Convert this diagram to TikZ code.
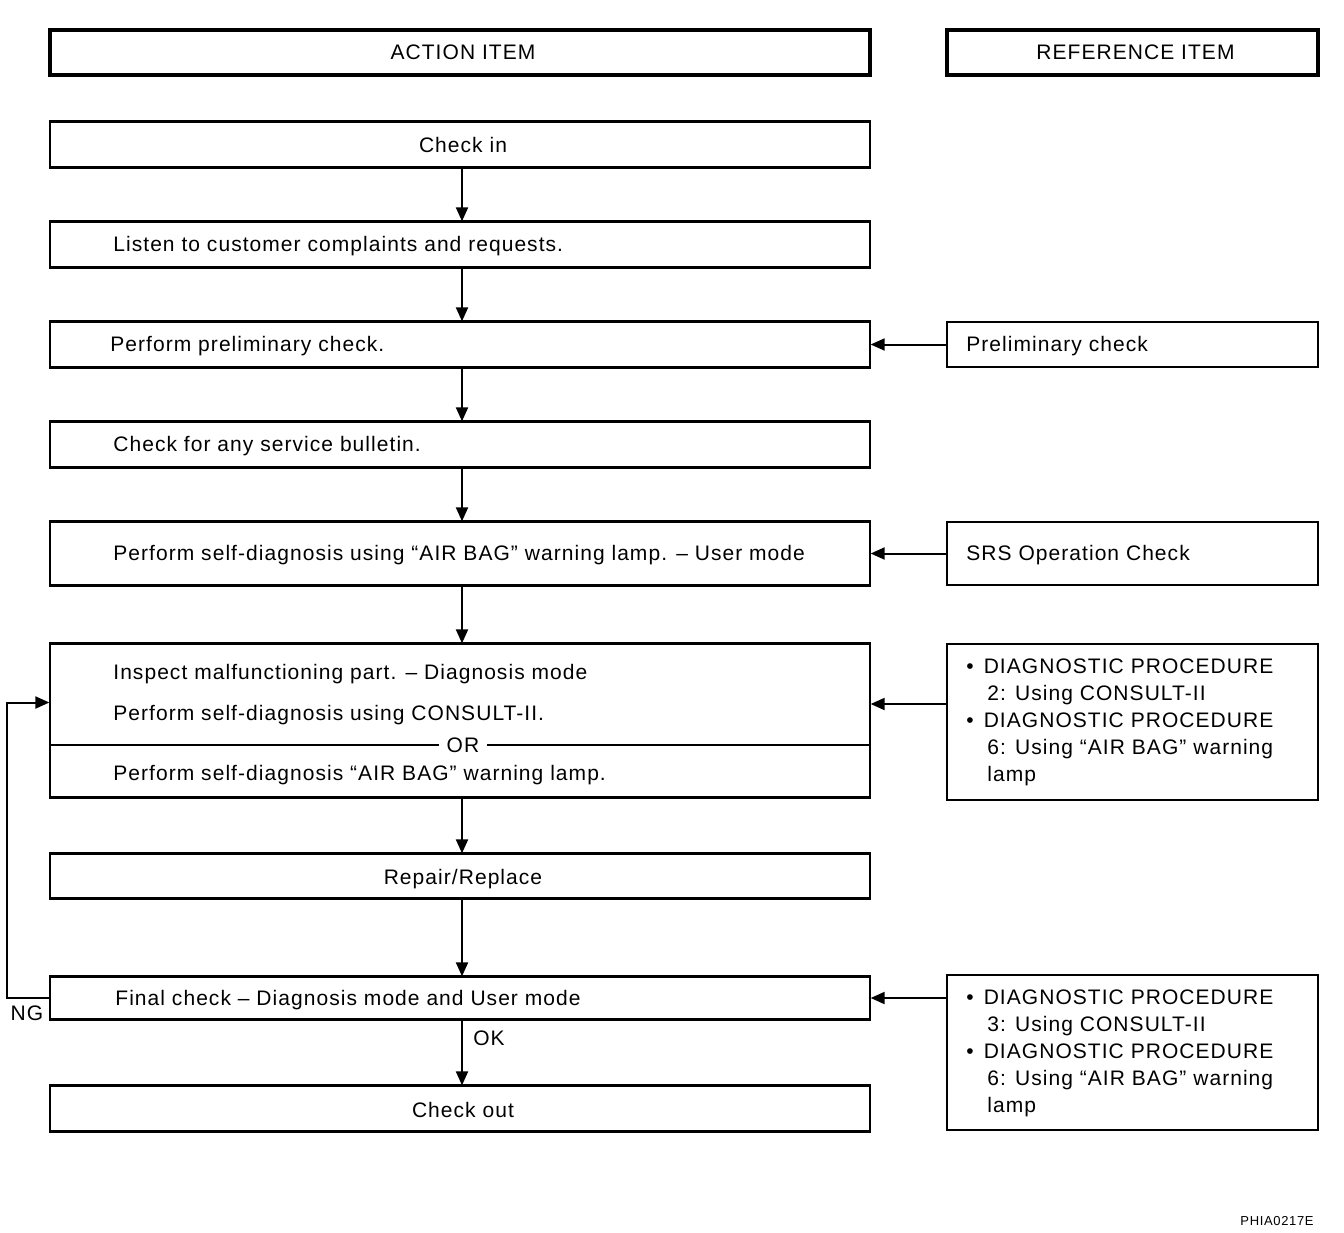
\documentclass[tikz,border=0pt]{standalone}
\usepackage{fontspec}
\setmainfont{Liberation Sans}[LetterSpace=5.0]
\usetikzlibrary{arrows.meta,calc}
\begin{document}
\begin{tikzpicture}[x=0.5pt,y=-0.5pt,
  font=\fontsize{10.5pt}{13.5pt}\selectfont,
  hdr/.style={draw,line width=2pt,minimum height=22.5pt,inner sep=0pt},
  lbox/.style={draw,line width=0.65pt,minimum width=410pt,inner sep=0pt},
  rbox/.style={draw,line width=1pt,minimum width=185.5pt,inner sep=0pt},
  txt/.style={anchor=west,inner sep=0pt,yshift=-1pt},
  ctxt/.style={inner sep=0pt},
  arr/.style={line width=1pt,-{Triangle[length=7pt,width=6pt]}},
  thickedge/.style={line width=1.4pt}]
\useasboundingbox (0,0) rectangle (1344,1232);
% headers
\node[hdr,minimum width=410pt] (hA) at (460,52.5) {\hspace*{3pt}ACTION ITEM};
\node[hdr,minimum width=185.5pt] (hR) at (1132.5,52.5) {\hspace*{3pt}REFERENCE ITEM};
% left boxes
\node[lbox,minimum height=22.5pt] (ci) at (460,144.5) {\hspace*{3pt}Check in};
\node[lbox,minimum height=22.5pt] (ls) at (460,244.5) {};
\node[lbox,minimum height=22.5pt] (pp) at (460,344.5) {};
\node[lbox,minimum height=22.5pt] (sb) at (460,444.5) {};
\node[lbox,minimum height=31.5pt] (sd) at (460,553.5) {};
\node[lbox,minimum height=76.5pt] (insp) at (460,720.5) {};
\node[lbox,minimum height=22pt] (rr) at (460,876) {};
\node[lbox,minimum height=21pt] (fc) at (460,998) {};
\node[lbox,minimum height=22.5pt] (co) at (460,1108.5) {};
\foreach \n in {ci,ls,pp,sb,sd,insp,rr,fc,co}
  \draw[thickedge] (\n.north west) -- (\n.north east) (\n.south west) -- (\n.south east);
\node[ctxt] (trr) at ([xshift=1.5pt,yshift=-1.5pt]rr.center) {Repair/Replace};
\node[ctxt] (tco) at ([xshift=1.5pt,yshift=-0.7pt]co.center) {Check out};
% left texts
\node[txt] (tls) at (113,244.5) {Listen to customer complaints and requests.};
\node[txt] (tpp) at (110,344.5) {Perform preliminary check.};
\node[txt] (tsb) at (113,444.5) {Check for any service bulletin.};
\node[txt] (tsd) at (113,553.5) {Perform self-diagnosis using “AIR BAG” warning lamp. – User mode};
\node[txt] (ti1) at (113,672) {Inspect malfunctioning part. – Diagnosis mode};
\node[txt] (ti2) at (113,713) {Perform self-diagnosis using CONSULT-II.};
\node[txt] (ti3) at (113,773) {Perform self-diagnosis “AIR BAG” warning lamp.};
\node[txt] (tfc) at (115,998) {Final check – Diagnosis mode and User mode};
% divider with OR
\draw[line width=1.2pt] ([yshift=-12.25pt]insp.west) -- ([yshift=-12.25pt]insp.east);
\node[fill=white,inner xsep=4pt,inner ysep=1pt] (or) at (463,745) {OR};
% right boxes
\node[rbox,minimum height=22.5pt] (rp) at (1132.5,344.5) {};
\node[rbox,minimum height=31.5pt] (rs) at (1132.5,553.5) {};
\node[rbox,minimum height=78pt] (d1) at (1132.5,722) {};
\node[rbox,minimum height=77.5pt] (d2) at (1132.5,1052.5) {};
\node[txt] (trp) at (966,344.5) {Preliminary check};
\node[txt] (trs) at (966,553.5) {SRS Operation Check};
\node[txt,anchor=north west,align=left] (td1) at (966,656) {•\hspace{5pt}DIAGNOSTIC PROCEDURE\\
\hspace*{10.5pt}2: Using CONSULT-II\\
•\hspace{5pt}DIAGNOSTIC PROCEDURE\\
\hspace*{10.5pt}6: Using “AIR BAG” warning\\
\hspace*{10.5pt}lamp};
\node[txt,anchor=north west,align=left] (td2) at (966,987) {•\hspace{5pt}DIAGNOSTIC PROCEDURE\\
\hspace*{10.5pt}3: Using CONSULT-II\\
•\hspace{5pt}DIAGNOSTIC PROCEDURE\\
\hspace*{10.5pt}6: Using “AIR BAG” warning\\
\hspace*{10.5pt}lamp};
% vertical arrows
\foreach \a/\b in {ci/ls,ls/pp,pp/sb,sb/sd,sd/insp,insp/rr,rr/fc,fc/co}
  \draw[arr] ([xshift=1pt]\a.south) -- ([xshift=1pt]\b.north);
% horizontal arrows
\draw[arr] (rp.west) -- (pp.east);
\draw[arr] (rs.west) -- (sd.east);
\draw[arr] ([yshift=9pt]d1.west) -- ([yshift=9pt]d1.west -| insp.east);
\draw[arr] (d2.west |- fc.east) -- (fc.east);
% NG loop
\draw[arr] (fc.west) -- ++(-42,0) |- ([yshift=9pt]insp.west);
\node (ng) at (27,1013) {NG};
\node (ok) at (489,1038) {OK};
\node[anchor=east,inner sep=0pt,font=\fontsize{6.5pt}{8pt}\selectfont] (code) at (1314,1221) {PHIA0217E};
\end{tikzpicture}
\end{document}
